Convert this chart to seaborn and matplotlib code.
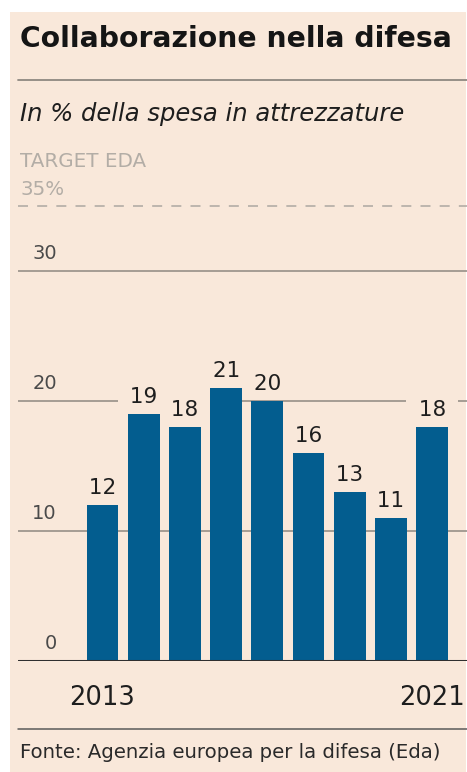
import matplotlib
matplotlib.use("Agg")
import matplotlib.pyplot as plt
import matplotlib.transforms as mtransforms
from matplotlib.patches import Rectangle
import seaborn as sns
import pandas as pd

years = ["2013", "2014", "2015", "2016", "2017", "2018", "2019", "2020", "2021"]
values = [12, 19, 18, 21, 20, 16, 13, 11, 18]
yticks = [0, 10, 20, 30]
target = 35
shown_years = {"2013", "2021"}

title = "Collaborazione nella difesa"
subtitle = "In % della spesa in attrezzature"
target_label = "TARGET EDA"
target_value = "35%"
source = "Fonte: Agenzia europea per la difesa (Eda)"

BG = "#f9e8da"
BAR = "#035d8f"
GRID = "#8e8881"
TXT = "#1e1e1e"
FAINT = "#b3ada6"

sns.set_theme(style="white")
plt.rcParams["font.family"] = ["DejaVu Sans"]

W, H = 467, 772
fig = plt.figure(figsize=(W / 100, H / 100), dpi=100, facecolor="white")

def fx(px):
    return px / W

def fy(py):
    return 1 - py / H

bgrect = Rectangle((fx(10), 0), fx(466) - fx(10), fy(12), transform=fig.transFigure,
                   facecolor=BG, edgecolor="none", zorder=-10)
fig.patches.append(bgrect)

# Axes: x from 18 to 467 px; y: 0 at 661 px, 10 units = 130 px
y0_px = 661
px_per_unit = 13.0
ymax = 36
ax_left, ax_right = 18, 467
ax_top_px = y0_px - ymax * px_per_unit
ax = fig.add_axes([fx(ax_left), fy(y0_px), fx(ax_right) - fx(ax_left), fy(ax_top_px) - fy(y0_px)],
                  zorder=1)
ax.patch.set_visible(False)

df = pd.DataFrame({"year": years, "value": values})
sns.barplot(data=df, x="year", y="value", color=BAR, width=0.77, saturation=1,
            ax=ax, zorder=3, edgecolor="none")

spacing = 41.2
c0 = 102.5
ax.set_xlim((ax_left - c0) / spacing, (ax_right - c0) / spacing)
ax.set_ylim(0, ymax)

for s in ax.spines.values():
    s.set_visible(False)
ax.set_xticks([])
ax.set_yticks([])
ax.set_xlabel("")
ax.set_ylabel("")

# gridlines
for t in yticks:
    if t == 0:
        ax.axhline(t, color="#2f2f2f", lw=2.2, zorder=4)
    else:
        ax.axhline(t, color=GRID, lw=1.1, zorder=1)
ax.axhline(target, color=FAINT, lw=1.2, ls=(0, (6, 5.5)), zorder=1, clip_on=False)

# y tick labels
tr = mtransforms.blended_transform_factory(ax.transAxes, ax.transData)
xt = (57 - ax_left) / (ax_right - ax_left)
for t in yticks:
    ax.annotate(str(t), xy=(xt, t), xycoords=tr,
                xytext=(0, 6), textcoords="offset points", ha="right", va="bottom",
                fontsize=14, color="#4a4a4a")

# value labels with a background that breaks the gridlines (beneath the bars)
for i, v in enumerate(values):
    ax.annotate(" " + str(v) + " ", xy=(i, v), xytext=(0, 5), textcoords="offset points",
                ha="center", va="bottom", fontsize=15.5, color=TXT, zorder=2,
                bbox=dict(boxstyle="square,pad=0.25", facecolor=BG, edgecolor="none"))

# year labels
for i, y in enumerate(years):
    if y in shown_years:
        ax.annotate(y, xy=(i, 0), xytext=(0, -17), textcoords="offset points",
                    ha="center", va="top", fontsize=18.5, color=TXT, annotation_clip=False)

# header texts
fig.text(fx(20), fy(47), title, fontsize=20.3, fontweight="bold", color="#151515",
         ha="left", va="baseline")
fig.add_artist(plt.Line2D([fx(18), fx(467)], [fy(80), fy(80)], color=GRID, lw=1.3,
                          transform=fig.transFigure))
fig.text(fx(20), fy(121), subtitle, fontsize=17.5, style="italic", color=TXT,
         ha="left", va="baseline")
fig.text(fx(20), fy(167), target_label, fontsize=14.3, color=FAINT,
         ha="left", va="baseline")
fig.text(fx(20), fy(195), target_value, fontsize=14.3, color=FAINT,
         ha="left", va="baseline")

fig.add_artist(plt.Line2D([fx(18), fx(467)], [fy(729), fy(729)], color="#5a5a5a", lw=1.1,
                          transform=fig.transFigure))
fig.text(fx(20), fy(758), source, fontsize=14.2, color="#2a2a2a", ha="left", va="baseline")

fig.savefig("out.png", dpi=100, facecolor="white")
